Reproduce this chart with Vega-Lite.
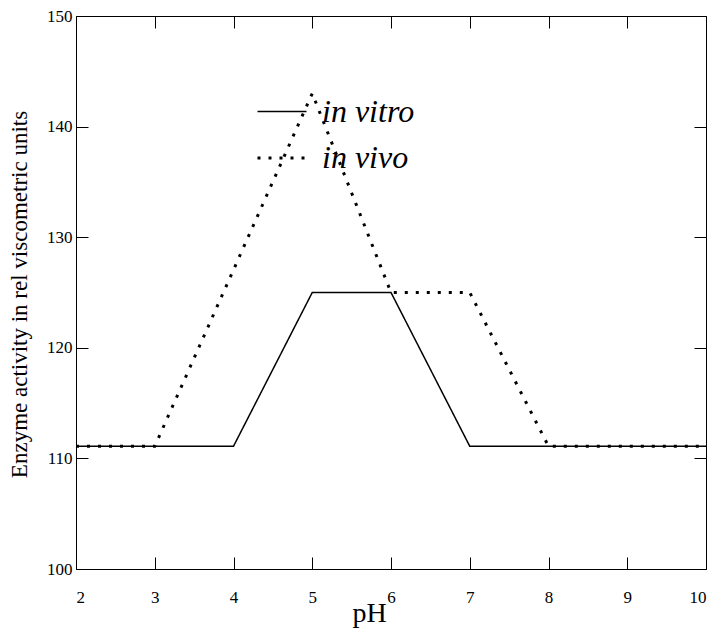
{
  "$schema": "https://vega.github.io/schema/vega-lite/v6.json",
  "width": 630,
  "height": 553,
  "autosize": {"type": "none"},
  "padding": {"left": 76, "top": 16, "right": 13, "bottom": 59},
  "config": {
    "font": "Liberation Serif",
    "view": {"stroke": "black", "strokeWidth": 1},
    "axis": {
      "grid": false,
      "domain": false,
      "tickColor": "black",
      "labelColor": "black",
      "titleColor": "black",
      "labelFont": "Liberation Serif",
      "titleFont": "Liberation Serif",
      "labelFontSize": 17,
      "tickSize": -12,
      "titleFontWeight": "normal"
    }
  },
  "data": {
    "values": [
      {"series": "in vitro", "pH": 2, "activity": 111.1},
      {"series": "in vitro", "pH": 4, "activity": 111.1},
      {"series": "in vitro", "pH": 5, "activity": 125},
      {"series": "in vitro", "pH": 6, "activity": 125},
      {"series": "in vitro", "pH": 7, "activity": 111.1},
      {"series": "in vitro", "pH": 10, "activity": 111.1},
      {"series": "in vivo", "pH": 2, "activity": 111.1},
      {"series": "in vivo", "pH": 3, "activity": 111.1},
      {"series": "in vivo", "pH": 5, "activity": 143},
      {"series": "in vivo", "pH": 6, "activity": 125},
      {"series": "in vivo", "pH": 7, "activity": 125},
      {"series": "in vivo", "pH": 8, "activity": 111.1},
      {"series": "in vivo", "pH": 10, "activity": 111.1}
    ]
  },
  "layer": [
    {
      "mark": {"type": "line", "color": "black"},
      "encoding": {
        "x": {
          "field": "pH",
          "type": "quantitative",
          "scale": {"domain": [2, 10], "nice": false},
          "axis": {
            "orient": "bottom",
            "title": "pH",
            "titleFontSize": 28,
            "titleX": 293,
            "titleY": 52,
            "titleAlign": "center",
            "titleBaseline": "alphabetic",
            "values": [2, 3, 4, 5, 6, 7, 8, 9, 10],
            "labelPadding": 32
          }
        },
        "y": {
          "field": "activity",
          "type": "quantitative",
          "scale": {"domain": [100, 150], "nice": false},
          "axis": {
            "orient": "left",
            "title": "Enzyme activity in rel viscometric units",
            "titleFontSize": 23,
            "titleX": -57,
            "titleY": 278,
            "titleAngle": -90,
            "titleAlign": "center",
            "titleBaseline": "middle",
            "values": [100, 110, 120, 130, 140, 150],
            "labelPadding": 16
          }
        },
        "strokeDash": {
          "field": "series",
          "type": "nominal",
          "scale": {"domain": ["in vitro", "in vivo"], "range": [[1, 0], [3, 8]]},
          "legend": {
            "orient": "none",
            "legendX": 180,
            "legendY": 70,
            "title": null,
            "symbolType": "stroke",
            "symbolSize": 2400,
            "symbolStrokeColor": "black",
            "symbolStrokeWidth": 1.5,
            "labelFont": "Liberation Serif",
            "labelFontStyle": "italic",
            "labelFontSize": 32,
            "labelColor": "black",
            "labelOffset": 14,
            "rowPadding": 4,
            "labelLimit": 0
          }
        },
        "strokeWidth": {
          "field": "series",
          "type": "ordinal",
          "scale": {"domain": ["in vitro", "in vivo"], "range": [1.5, 3]},
          "legend": null
        }
      }
    },
    {
      "mark": {"type": "line", "opacity": 0},
      "encoding": {
        "detail": {"field": "series", "type": "nominal"},
        "x": {
          "field": "pH",
          "type": "quantitative",
          "axis": {"orient": "top", "labels": false, "title": null, "values": [2, 3, 4, 5, 6, 7, 8, 9, 10]}
        },
        "y": {
          "field": "activity",
          "type": "quantitative",
          "axis": {"orient": "right", "labels": false, "title": null, "values": [100, 110, 120, 130, 140, 150]}
        }
      }
    }
  ]
}
